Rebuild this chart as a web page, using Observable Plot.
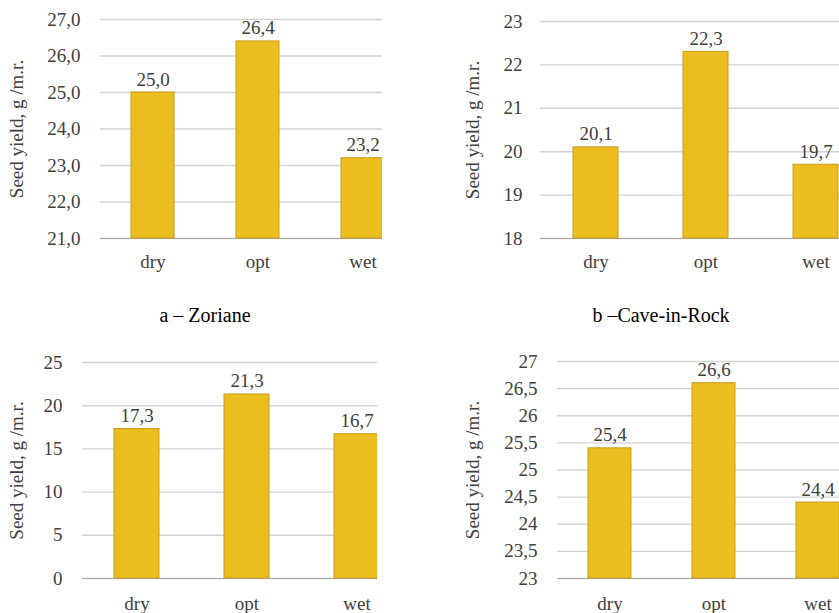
<!DOCTYPE html>
<html>
<head>
<meta charset="utf-8">
<script src="https://cdn.jsdelivr.net/npm/d3@7"></script>
<script src="https://cdn.jsdelivr.net/npm/@observablehq/plot@0.6"></script>
<style>
  html, body { margin: 0; padding: 0; background: #fff; overflow: hidden; }
  #fig { position: relative; width: 839px; height: 613px; }
  .panel { position: absolute; overflow: hidden; }
  .panel svg { max-width: none !important; display: block; }
  .panel svg, .panel svg text {
    font-family: "Liberation Serif", "Times New Roman", serif !important;
  }
  .caption {
    position: absolute; transform: translate(-50%, -50%);
    font-family: "Liberation Serif", "Times New Roman", serif;
    font-size: 20px; color: #000; white-space: nowrap;
  }
</style>
</head>
<body>
<div id="fig"></div>
<script>
// Water regime of the trial
const conditions = ["dry", "opt", "wet"];

// Seed yield, g per running metre
const yieldTopLeft = [25.0, 26.4, 23.2];
const yieldTopRight = [20.1, 22.3, 19.7];
const yieldBottomLeft = [17.3, 21.3, 16.7];
const yieldBottomRight = [25.4, 26.6, 24.4];

// Value-axis ticks of each panel
const ticksTopLeft = [21, 22, 23, 24, 25, 26, 27];
const ticksTopRight = [18, 19, 20, 21, 22, 23];
const ticksBottomLeft = [0, 5, 10, 15, 20, 25];
const ticksBottomRight = [23, 23.5, 24, 24.5, 25, 25.5, 26, 26.5, 27];

const captions = ["a – Zoriane", "b –Cave-in-Rock"];
const yTitle = "Seed yield, g /m.r.";

const comma = (digits) => (v) => (digits == null ? String(v) : v.toFixed(digits)).replace(".", ",");

const fig = document.getElementById("fig");

function panel(cfg) {
  const data = conditions.map((c, i) => ({cond: c, value: cfg.values[i]}));
  const yMin = cfg.ticks[0];
  const yMax = cfg.ticks[cfg.ticks.length - 1];
  const plot = Plot.plot({
    width: cfg.width,
    height: cfg.height,
    marginLeft: cfg.ml,
    marginRight: 0,
    marginTop: cfg.mt,
    marginBottom: cfg.mb,
    style: {fontSize: "19px", color: "#404040", background: "transparent"},
    x: {domain: conditions, paddingInner: 0.59, paddingOuter: 0.295},
    y: {domain: [yMin, yMax]},
    marks: [
      Plot.gridY(cfg.ticks, {stroke: "#d3d3d3", strokeOpacity: 1, strokeWidth: 1.4}),
      Plot.ruleY([yMin], {stroke: "#a8a8a8", strokeWidth: 1.2}),
      Plot.barY(data, {x: "cond", y1: () => yMin, y2: "value", fill: "#ecbd1f", stroke: "#c89d1c", strokeWidth: 1}),
      Plot.text(data, {x: "cond", y: "value", text: (d) => comma(1)(d.value), lineAnchor: "bottom", dy: -7, fill: "#404040"}),
      Plot.axisY(cfg.ticks, {tickSize: 0, tickPadding: cfg.tp, tickFormat: cfg.fmt, label: yTitle, labelAnchor: "center", labelOffset: cfg.lo, labelArrow: "none"}),
      Plot.axisX({tickSize: 0, tickPadding: cfg.xp, label: null})
    ]
  });
  const box = document.createElement("div");
  box.className = "panel";
  box.style.left = cfg.left + "px";
  box.style.top = cfg.top + "px";
  box.style.width = cfg.clip + "px";
  box.style.height = cfg.height + "px";
  box.appendChild(plot);
  fig.appendChild(box);
}

panel({values: yieldTopLeft, ticks: ticksTopLeft, fmt: comma(1),
  left: 0, top: 0, clip: 382, width: 415, height: 280, ml: 100, mt: 19, mb: 42, tp: 20, lo: 91, xp: 16});
panel({values: yieldTopRight, ticks: ticksTopRight, fmt: comma(null),
  left: 440, top: 0, clip: 399, width: 432, height: 280, ml: 100, mt: 21, mb: 42, tp: 18, lo: 75, xp: 16});
panel({values: yieldBottomLeft, ticks: ticksBottomLeft, fmt: comma(null),
  left: 0, top: 340, clip: 377, width: 412, height: 273, ml: 82, mt: 22, mb: 35, tp: 20, lo: 73, xp: 18});
panel({values: yieldBottomRight, ticks: ticksBottomRight, fmt: comma(null),
  left: 440, top: 340, clip: 399, width: 429, height: 273, ml: 117, mt: 21, mb: 35, tp: 20, lo: 92, xp: 18});

[[captions[0], 205, 315], [captions[1], 661, 315]].forEach(([t, x, y]) => {
  const c = document.createElement("div");
  c.className = "caption";
  c.style.left = x + "px";
  c.style.top = y + "px";
  c.textContent = t;
  fig.appendChild(c);
});
</script>
</body>
</html>
